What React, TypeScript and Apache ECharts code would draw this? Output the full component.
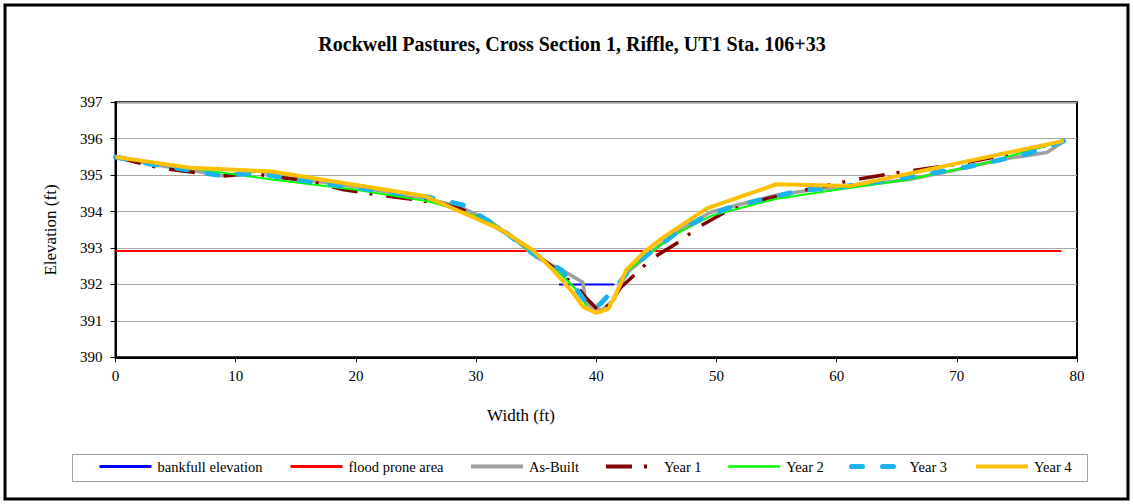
import React, { useEffect, useRef } from "react";
import * as echarts from "echarts";

const titleText = "Rockwell Pastures, Cross Section 1, Riffle, UT1 Sta. 106+33";
const xAxisName = "Width (ft)";
const yAxisName = "Elevation (ft)";

const bankfullX = [36.9, 41.5];
const bankfullY = [392.0, 392.0];

const floodX = [0, 78.7];
const floodY = [392.92, 392.92];

const asBuiltX = [0, 3, 6.5, 8.8, 12, 14, 20, 26, 28.5, 31, 33, 35, 37.4, 38.9, 39.1, 39.7, 40.5, 41.5, 42.5, 45, 47, 49.5, 52, 55, 58, 62, 66, 70, 74, 77.5, 79];
const asBuiltY = [395.5, 395.3, 395.12, 394.98, 395.12, 394.95, 394.68, 394.35, 394.15, 393.78, 393.3, 392.75, 392.35, 392.05, 391.55, 391.35, 391.3, 391.6, 392.3, 393.0, 393.5, 393.98, 394.2, 394.45, 394.6, 394.72, 394.88, 395.15, 395.45, 395.62, 395.95];

const year1X = [0, 2, 4, 7, 8.7, 11.5, 13, 16, 19, 22, 25.5, 28.5, 31, 33.5, 36.5, 38.5, 39.1, 40.3, 41.1, 42, 44.6, 46.7, 48.6, 50.8, 54.2, 57.5, 61.4, 64.7, 70, 74, 79];
const year1Y = [395.5, 395.33, 395.18, 395.06, 394.97, 395.05, 394.96, 394.85, 394.6, 394.45, 394.3, 394.12, 393.7, 393.2, 392.45, 391.9, 391.65, 391.25, 391.45, 391.9, 392.7, 393.13, 393.59, 394.0, 394.36, 394.6, 394.87, 395.05, 395.3, 395.55, 395.95];

const year2X = [0, 6, 13, 20, 26, 28, 31, 33, 35, 37, 38.5, 39.3, 40, 41, 42.5, 45, 47, 49.7, 52, 55, 60, 66, 72, 79];
const year2Y = [395.5, 395.2, 394.88, 394.6, 394.28, 394.1, 393.75, 393.3, 392.8, 392.3, 391.8, 391.35, 391.22, 391.35, 392.35, 393.0, 393.45, 393.9, 394.1, 394.35, 394.6, 394.88, 395.3, 395.95];

const year3X = [0, 3, 6.5, 8.5, 12, 14, 19, 24, 26, 28.9, 30, 32, 34.5, 37.1, 38.5, 39.5, 40.3, 41.7, 43, 45, 47, 49, 51, 54, 57, 60, 64, 67, 72, 76, 79];
const year3Y = [395.5, 395.3, 395.12, 395.0, 395.05, 394.92, 394.7, 394.48, 394.4, 394.18, 393.95, 393.55, 392.9, 392.4, 391.8, 391.35, 391.45, 391.95, 392.5, 393.0, 393.5, 393.85, 394.1, 394.35, 394.58, 394.66, 394.85, 395.0, 395.3, 395.6, 395.95];

const year4X = [0, 6.3, 13, 25.7, 30.6, 32.1, 34.7, 36.4, 38, 38.9, 40, 41, 41.6, 42.5, 43.9, 45.4, 49.2, 55, 61.1, 78.9];
const year4Y = [395.5, 395.2, 395.1, 394.43, 393.72, 393.5, 392.95, 392.4, 391.8, 391.39, 391.22, 391.33, 391.7, 392.4, 392.86, 393.25, 394.09, 394.75, 394.7, 395.94];

const xTicks = { min: 0, max: 80, interval: 10 };
const yTicks = { min: 390, max: 397, interval: 1 };

const legendNames = ["bankfull elevation", "flood prone area", "As-Built", "Year 1", "Year 2", "Year 3", "Year 4"];
const legendLefts = [98, 289, 469, 604, 727, 849, 974];

const zip = (xs: number[], ys: number[]) => xs.map((x, i) => [x, ys[i]]);

const FONT = "Liberation Serif";

const styles: { color: string; width: number; legendWidth: number; type: any; cap?: string }[] = [
  { color: "#0000FF", width: 2, legendWidth: 3, type: "solid" },
  { color: "#FF0000", width: 2, legendWidth: 3, type: "solid" },
  { color: "#A0A0A0", width: 3.5, legendWidth: 4, type: "solid" },
  { color: "#800000", width: 3.5, legendWidth: 4, type: [26, 12, 3, 14] },
  { color: "#00FF00", width: 2, legendWidth: 2.5, type: "solid" },
  { color: "#19B4EC", width: 5, legendWidth: 5, type: [11, 20], cap: "round" },
  { color: "#FFC000", width: 4, legendWidth: 4, type: "solid" },
];

export default function App() {
  const ref = useRef<HTMLDivElement>(null);
  useEffect(() => {
    document.body.style.margin = "0";
    const chart = echarts.init(ref.current!, undefined, { renderer: "svg" });
    const datasets = [
      zip(bankfullX, bankfullY),
      zip(floodX, floodY),
      zip(asBuiltX, asBuiltY),
      zip(year1X, year1Y),
      zip(year2X, year2Y),
      zip(year3X, year3Y),
      zip(year4X, year4Y),
    ];
    chart.setOption({
      animation: false,
      backgroundColor: "#fff",
      textStyle: { fontFamily: FONT, color: "#000" },
      title: {
        text: titleText,
        left: 567,
        top: 29,
        textAlign: "center",
        textStyle: { fontFamily: FONT, fontSize: 20, fontWeight: "bold", color: "#000" },
      },
      grid: {
        left: 115.5,
        right: 56,
        top: 102.3,
        bottom: 146.7,
        show: true,
        borderColor: "#000",
        borderWidth: 2,
        backgroundColor: "#fff",
      },
      xAxis: {
        type: "value",
        ...xTicks,
        axisLine: { show: true, lineStyle: { color: "#000", width: 2 } },
        axisTick: { show: true, inside: false, length: 5, lineStyle: { color: "#000" } },
        axisLabel: { color: "#000", fontFamily: FONT, fontSize: 15, margin: 11 },
        splitLine: { show: false },
      },
      yAxis: {
        type: "value",
        ...yTicks,
        axisLine: { show: true, lineStyle: { color: "#000", width: 2 } },
        axisTick: { show: true, inside: false, length: 5, lineStyle: { color: "#000" } },
        axisLabel: { color: "#000", fontFamily: FONT, fontSize: 15, margin: 13 },
        splitLine: { show: true, lineStyle: { color: "#A6A6A6", width: 1 } },
      },
      legend: legendNames.map((n, i) => ({
        data: [n],
        left: legendLefts[i],
        top: 459,
        itemWidth: 52,
        itemHeight: 12,
        itemGap: 0,
        selectedMode: false,
        itemStyle: { opacity: 0 },
        lineStyle: {
          color: styles[i].color,
          width: styles[i].legendWidth,
          type: styles[i].type,
          cap: styles[i].cap || "butt",
        },
        textStyle: { fontFamily: FONT, fontSize: 14.5, color: "#000", padding: [0, 0, 0, 1] },
        padding: 0,
      })),
      graphic: [
        {
          type: "rect",
          shape: { x: 5, y: 5, width: 1123, height: 494 },
          style: { fill: "none", stroke: "#000", lineWidth: 3 },
          z: 100,
          silent: true,
        },
        {
          type: "rect",
          shape: { x: 72.5, y: 454.5, width: 1015, height: 27 },
          style: { fill: "none", stroke: "#A0A0A0", lineWidth: 1 },
          silent: true,
        },
        {
          type: "text",
          x: 521,
          y: 415,
          style: { text: xAxisName, fontFamily: FONT, fontSize: 17, fill: "#000", textAlign: "center", textVerticalAlign: "middle" },
          silent: true,
        },
        {
          type: "text",
          x: 50,
          y: 230,
          rotation: Math.PI / 2,
          style: { text: yAxisName, fontFamily: FONT, fontSize: 17, fill: "#000", textAlign: "center", textVerticalAlign: "middle" },
          silent: true,
        },
      ],
      series: legendNames.map((name, i) => ({
        name,
        type: "line",
        data: datasets[i],
        symbol: "none",
        showSymbol: false,
        silent: true,
        lineStyle: {
          color: styles[i].color,
          width: styles[i].width,
          type: styles[i].type,
          cap: styles[i].cap || "butt",
        },
        itemStyle: { color: styles[i].color },
      })),
    });
    return () => chart.dispose();
  }, []);
  return <div ref={ref} style={{ width: 1133, height: 504 }} />;
}
